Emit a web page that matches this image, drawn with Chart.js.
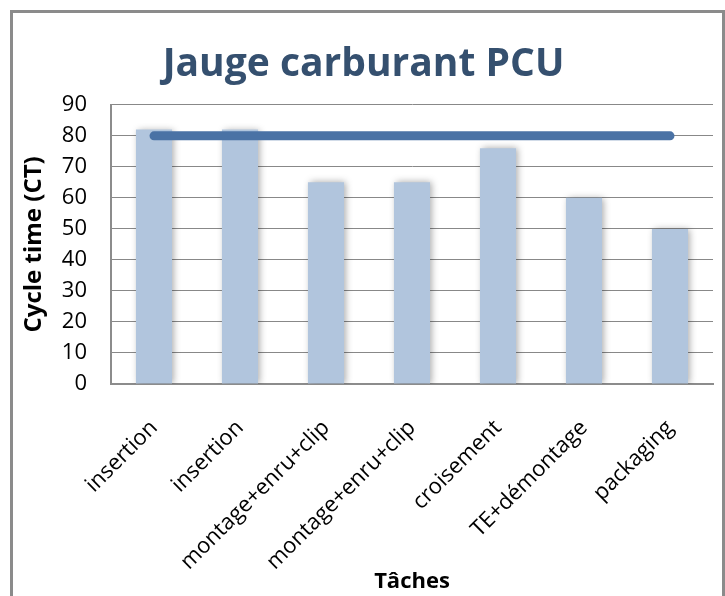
<!DOCTYPE html>
<html>
<head>
<meta charset="utf-8">
<script src="https://cdn.jsdelivr.net/npm/chart.js@4.4.0/dist/chart.umd.min.js"></script>
<style>
  body { margin: 0; background: #fff; }
  #frame {
    position: absolute; left: 10px; top: 10px;
    width: 709px; height: 600px;
    border: 3px solid #8b8b8b;
  }
  #wrap { position: absolute; left: 0; top: 0; width: 725px; height: 596px; }
</style>
</head>
<body>
<div id="frame"></div>
<div id="wrap"><canvas id="chart" width="725" height="596"></canvas></div>
<script>
// chart data
const taches = ['insertion', 'insertion', 'montage+enru+clip', 'montage+enru+clip', 'croisement', 'TE+démontage', 'packaging'];
const cycleTimes = [82, 82, 65, 65, 76, 60, 50];
const taktTime = [80, 80, 80, 80, 80, 80, 80];
const yTicks = [0, 10, 20, 30, 40, 50, 60, 70, 80, 90];

const fontFamily = "'Open Sans', sans-serif";

// soft shadow behind the bars, like the office chart
const barShadow = {
  id: 'barShadow',
  beforeDatasetDraw(chart, args) {
    if (args.meta.type !== 'bar') return;
    const ctx = chart.ctx;
    ctx.save();
    ctx.shadowColor = 'rgba(0,0,0,0.35)';
    ctx.shadowBlur = 7;
    ctx.shadowOffsetX = 2;
    ctx.shadowOffsetY = 0;
  },
  afterDatasetDraw(chart, args) {
    if (args.meta.type !== 'bar') return;
    chart.ctx.restore();
  },
};

const ctx = document.getElementById('chart').getContext('2d');
new Chart(ctx, {
  type: 'bar',
  data: {
    labels: taches,
    datasets: [
      {
        type: 'line',
        label: 'Takt time',
        data: taktTime,
        borderColor: '#4a72a5',
        borderWidth: 9,
        borderCapStyle: 'round',
        pointRadius: 0,
        fill: false,
        order: 0,
      },
      {
        type: 'bar',
        label: 'Cycle time',
        data: cycleTimes,
        backgroundColor: '#b1c5dd',
        barPercentage: 0.42,
        categoryPercentage: 1.0,
        order: 1,
      },
    ],
  },
  options: {
    responsive: false,
    animation: false,
    layout: {
      padding: { top: 14, left: 14, right: 12, bottom: 0 },
    },
    scales: {
      y: {
        min: 0,
        max: 90,
        afterBuildTicks: (axis) => {
          axis.ticks = yTicks.map((v) => ({ value: v }));
        },
        afterFit: (axis) => {
          axis.width = 97;
        },
        ticks: {
          padding: 24,
          color: '#000',
          font: { family: fontFamily, size: 22 },
        },
        grid: {
          color: '#888',
          lineWidth: 1,
          drawTicks: false,
        },
        border: { display: true, color: '#8c8c8c', width: 2 },
        title: {
          display: true,
          text: 'Cycle time (CT)',
          color: '#000',
          padding: { top: 6, bottom: 0 },
          font: { family: fontFamily, size: 24, weight: 'bold' },
        },
      },
      x: {
        afterFit: (axis) => {
          axis.height = 212;
        },
        ticks: {
          autoSkip: false,
          minRotation: 45,
          maxRotation: 45,
          padding: 31,
          color: '#000',
          font: { family: fontFamily, size: 22 },
        },
        grid: { display: false, drawTicks: false },
        border: { display: true, color: '#8c8c8c', width: 2 },
        title: {
          display: true,
          text: 'Tâches',
          color: '#000',
          padding: { top: 0, bottom: 1 },
          font: { family: fontFamily, size: 22, weight: 'bold' },
        },
      },
    },
    plugins: {
      legend: { display: false },
      tooltip: { enabled: false },
      title: {
        display: true,
        text: 'Jauge carburant PCU',
        color: '#35506f',
        padding: { top: 27, bottom: 17 },
        font: { family: fontFamily, size: 39, weight: 'bold' },
      },
    },
  },
  plugins: [barShadow],
});
</script>
</body>
</html>
